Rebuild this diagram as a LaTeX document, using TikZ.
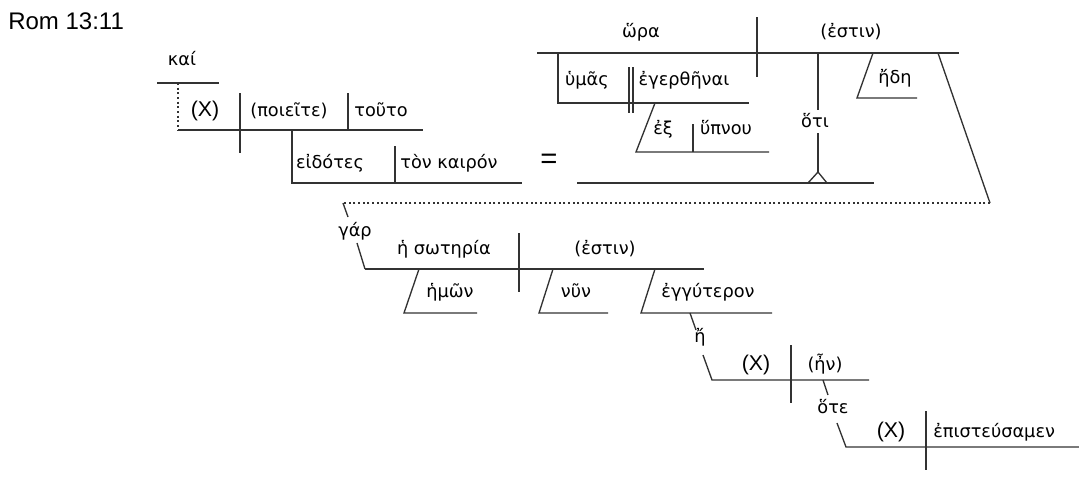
\documentclass[tikz,border=0pt]{standalone}
\usepackage{fontspec}
\setmainfont{Liberation Sans}
\newfontfamily\gkfont{DejaVu Sans}
\definecolor{linec}{RGB}{50,50,50}
\begin{document}
\begin{tikzpicture}[x=0.75pt,y=-0.75pt,
  ln/.style={line width=1pt, draw=linec},
  dotln/.style={line width=1pt, draw=linec, dash pattern=on 1.5pt off 2pt},
  gk/.style={font=\gkfont\fontsize{13.3}{16}\selectfont, inner sep=0pt, anchor=base},
  lt/.style={font=\fontsize{16}{19}\selectfont, inner sep=0pt, anchor=base}]
\useasboundingbox (0,0) rectangle (1079,476);

% title
\node[font=\fontsize{18}{21}\selectfont, inner sep=0pt, anchor=base west] (title) at (8,29) {Rom 13:11};

% ---------- clause 1 ----------
\coordinate (kaiL) at (157,83); \coordinate (kaiR) at (219,83);
\coordinate (d1) at (178,83); \coordinate (m1L) at (178,130); \coordinate (m1R) at (423,130);
\coordinate (sv1t) at (240,93); \coordinate (sv1b) at (240,153);
\coordinate (vo1t) at (348,93); \coordinate (vo1b) at (348,130);
\coordinate (p1t) at (292,130); \coordinate (p1b) at (292,183); \coordinate (p1R) at (522,183);
\coordinate (pd1t) at (395,146); \coordinate (pd1b) at (395,183);
\draw[ln] (kaiL) -- (kaiR);
\draw[dotln] (d1) -- (m1L);
\draw[ln] (m1L) -- (m1R);
\draw[ln] (sv1t) -- (sv1b);
\draw[ln] (vo1t) -- (vo1b);
\draw[ln] (p1t) -- (p1b) -- (p1R);
\draw[ln] (pd1t) -- (pd1b);

\node[gk] (kai) at (182,65) {καί};
\node[lt] (X1) at (205,116) {(X)};
\node[gk] (poieite) at (289,116) {(ποιεῖτε)};
\node[gk] (touto) at (381,116) {τοῦτο};
\node[gk] (eidotes) at (330,168) {εἰδότες};
\node[gk] (kairon) at (449,168) {τὸν καιρόν};
\node[font=\fontsize{22}{24}\selectfont, inner sep=0pt] (eq) at (549,161) {=};

% ---------- clause 2 ----------
\coordinate (t2L) at (537,53); \coordinate (t2R) at (959,53);
\coordinate (sv2t) at (757,17); \coordinate (sv2b) at (757,77);
\coordinate (inf1) at (558,53); \coordinate (inf2) at (558,103); \coordinate (inf3) at (749,103);
\coordinate (db1t) at (629,67); \coordinate (db1b) at (629,113);
\coordinate (db2t) at (633,67); \coordinate (db2b) at (633,113);
\coordinate (ek1) at (655,103); \coordinate (ek2) at (636,152); \coordinate (ek3) at (769,152);
\coordinate (ekdt) at (693,124); \coordinate (ekdb) at (693,152);
\coordinate (ot1) at (818,53); \coordinate (ot2) at (818,110);
\coordinate (ot3) at (818,133); \coordinate (ot4) at (818,172);
\coordinate (carL) at (808,183); \coordinate (carR) at (827,183);
\coordinate (b2L) at (577,183); \coordinate (b2R) at (874,183);
\coordinate (ed1) at (873,53); \coordinate (ed2) at (857,98); \coordinate (ed3) at (917,98);
\coordinate (ls1) at (938,53); \coordinate (ls2) at (990,203);
\coordinate (dl) at (343,203);
\coordinate (ga1) at (348,217); \coordinate (ga2) at (357,243); \coordinate (m3L) at (365,269);
\draw[ln] (t2L) -- (t2R);
\draw[ln] (sv2t) -- (sv2b);
\draw[ln] (inf1) -- (inf2) -- (inf3);
\draw[ln] (db1t) -- (db1b);
\draw[ln] (db2t) -- (db2b);
\draw[ln] (ek1) -- (ek2) -- (ek3);
\draw[ln] (ekdt) -- (ekdb);
\draw[ln] (ot1) -- (ot2);
\draw[ln] (ot3) -- (ot4);
\draw[ln] (carL) -- (ot4) -- (carR);
\draw[ln] (b2L) -- (b2R);
\draw[ln] (ed1) -- (ed2) -- (ed3);
\draw[ln] (ls1) -- (ls2);
\draw[dotln] (ls2) -- (dl);
\draw[ln] (dl) -- (ga1);
\draw[ln] (ga2) -- (m3L);

\node[gk] (hora) at (641,37) {ὥρα};
\node[gk] (estin1) at (851,37) {(ἐστιν)};
\node[gk] (humas) at (587,85) {ὑμᾶς};
\node[gk] (egerthenai) at (684,85) {ἐγερθῆναι};
\node[gk] (ex) at (663,134) {ἐξ};
\node[gk] (hupnou) at (726,134) {ὕπνου};
\node[gk] (hoti) at (815,127) {ὅτι};
\node[gk] (ede) at (895,83) {ἤδη};

% ---------- clause 3 ----------
\coordinate (m3R) at (704,269);
\coordinate (sv3t) at (519,233); \coordinate (sv3b) at (519,292);
\coordinate (hm1) at (419,269); \coordinate (hm2) at (404,313); \coordinate (hm3) at (477,313);
\coordinate (nu1) at (553,269); \coordinate (nu2) at (539,313); \coordinate (nu3) at (608,313);
\coordinate (en1) at (655,269); \coordinate (en2) at (641,313); \coordinate (en3) at (772,313);
\coordinate (e1) at (690,313); \coordinate (e2) at (696,330);
\coordinate (e3) at (703,355); \coordinate (m4L) at (712,380); \coordinate (m4R) at (869,380);
\coordinate (sv4t) at (791,345); \coordinate (sv4b) at (791,403);
\coordinate (ho1) at (823,380); \coordinate (ho2) at (828,395);
\coordinate (ho3) at (837,423); \coordinate (m5L) at (846,447); \coordinate (m5R) at (1079,447);
\coordinate (sv5t) at (926,411); \coordinate (sv5b) at (926,470);
\draw[ln] (m3L) -- (m3R);
\draw[ln] (sv3t) -- (sv3b);
\draw[ln] (hm1) -- (hm2) -- (hm3);
\draw[ln] (nu1) -- (nu2) -- (nu3);
\draw[ln] (en1) -- (en2) -- (en3);
\draw[ln] (e1) -- (e2);
\draw[ln] (e3) -- (m4L) -- (m4R);
\draw[ln] (sv4t) -- (sv4b);
\draw[ln] (ho1) -- (ho2);
\draw[ln] (ho3) -- (m5L) -- (m5R);
\draw[ln] (sv5t) -- (sv5b);

\node[gk] (gar) at (355,236) {γάρ};
\node[gk] (soteria) at (444,254) {ἡ σωτηρία};
\node[gk] (estin2) at (605,254) {(ἐστιν)};
\node[gk] (hemon) at (450,297) {ἡμῶν};
\node[gk] (nyn) at (576,297) {νῦν};
\node[gk] (engy) at (708,297) {ἐγγύτερον};
\node[gk] (eta) at (700,342) {ἤ};
\node[lt] (X2) at (756,370) {(X)};
\node[gk] (en) at (825,370) {(ἦν)};
\node[gk] (hote) at (833,413) {ὅτε};
\node[lt] (X3) at (891,437) {(X)};
\node[gk, anchor=base west] (episteusamen) at (933,437) {ἐπιστεύσαμεν};
\end{tikzpicture}
\end{document}
